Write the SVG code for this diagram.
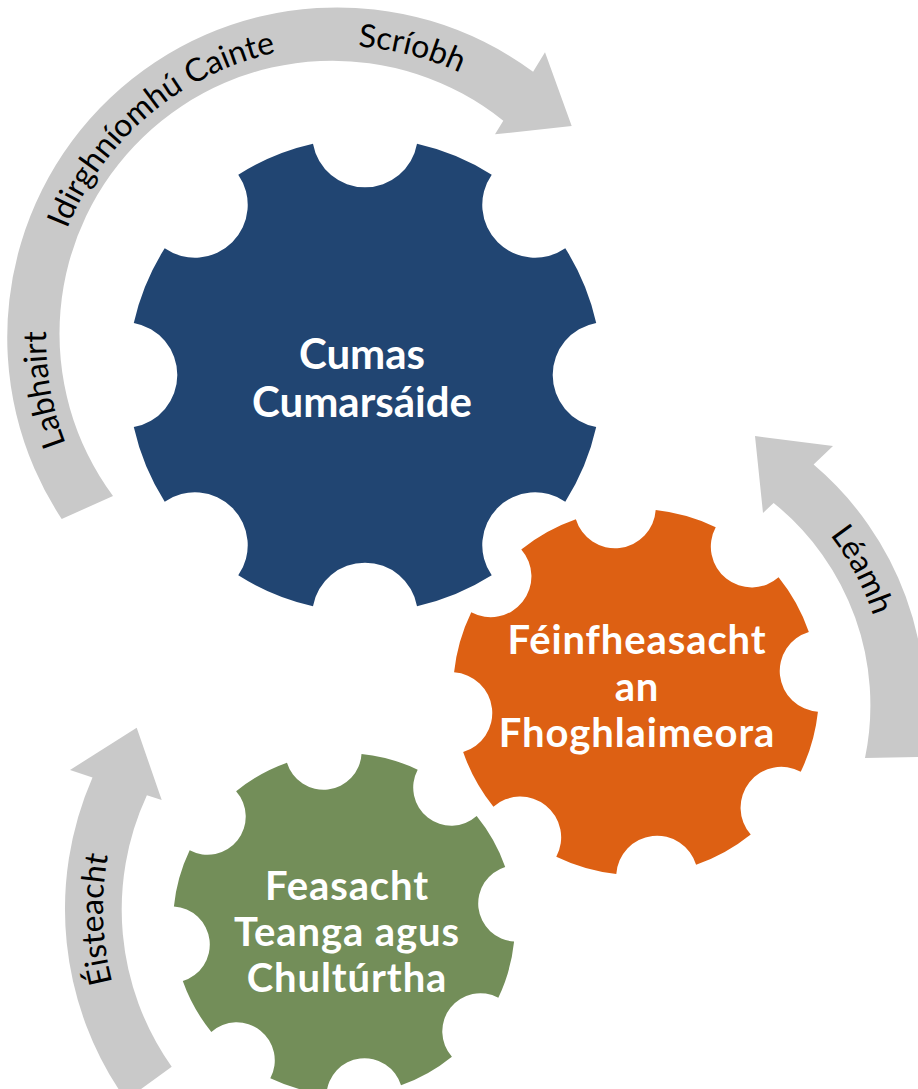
<svg xmlns="http://www.w3.org/2000/svg" xmlns:xlink="http://www.w3.org/1999/xlink" width="918" height="1089" viewBox="0 0 918 1089">
<style>
.arrow{fill:#C9C9C9;}
.alabel{font-family:Lato,"Liberation Sans",sans-serif;font-size:32px;fill:#000;}
.glabel{font-family:Lato,"Liberation Sans",sans-serif;font-size:42px;font-weight:bold;fill:#fff;text-anchor:middle;}
.glabel.sm{font-size:40px;letter-spacing:0.9px;}
</style>
<defs>
<path id="gear" d="M 97.56 -21.95 A 22.3 22.3 0 0 0 97.56 21.95 A 100 100 0 0 1 84.51 53.47 A 22.3 22.3 0 0 0 53.47 84.51 A 100 100 0 0 1 21.95 97.56 A 22.3 22.3 0 0 0 -21.95 97.56 A 100 100 0 0 1 -53.47 84.51 A 22.3 22.3 0 0 0 -84.51 53.47 A 100 100 0 0 1 -97.56 21.95 A 22.3 22.3 0 0 0 -97.56 -21.95 A 100 100 0 0 1 -84.51 -53.47 A 22.3 22.3 0 0 0 -53.47 -84.51 A 100 100 0 0 1 -21.95 -97.56 A 22.3 22.3 0 0 0 21.95 -97.56 A 100 100 0 0 1 53.47 -84.51 A 22.3 22.3 0 0 0 84.51 -53.47 A 100 100 0 0 1 97.56 -21.95 Z"/>
<path id="tpBig" d="M 150.31 561.68 A 292 292 0 1 1 590.88 192"/>
<path id="tpLeamh" d="M 610 427 A 278 278 0 0 1 850.75 844"/>
<path id="tpEist" d="M 248.5 1161 A 291 291 0 0 1 248.5 657"/>
</defs>
<g id="connectors">
<path class="arrow" d="M 61.7 519 A 330 330 0 0 1 533.1 71.8 L 545 52.3 L 571.7 126 L 495 134.3 L 503.3 120.7 A 273 273 0 0 0 113 496 Z"/>
<path class="arrow" d="M 865 758 A 260 260 0 0 0 773.6 502.9 L 763 513 L 755 436 L 833 446 L 813.6 464.6 A 315 315 0 0 1 920.7 757 Z"/>
<path class="arrow" d="M 126 1100 A 329 329 0 0 1 92.5 777.4 L 70 770 L 136.7 727.7 L 161.7 800 L 146.9 795.2 A 272 272 0 0 0 171.7 1066.7 Z"/>
<text class="alabel" text-anchor="middle"><textPath href="#tpBig" xlink:href="#tpBig" startOffset="203.9">Labhairt</textPath></text>
<text class="alabel" text-anchor="middle"><textPath href="#tpBig" xlink:href="#tpBig" startOffset="508.5">Idirghníomhú Cainte</textPath></text>
<text class="alabel" text-anchor="middle"><textPath href="#tpBig" xlink:href="#tpBig" startOffset="786">Scríobh</textPath></text>
<text class="alabel" text-anchor="middle"><textPath href="#tpLeamh" xlink:href="#tpLeamh" startOffset="299.9">Léamh</textPath></text>
<text class="alabel" text-anchor="middle"><textPath href="#tpEist" xlink:href="#tpEist" startOffset="294.6">Éisteacht</textPath></text>
</g>
<g id="gear-cumas">
<use href="#gear" xlink:href="#gear" fill="#214572" transform="translate(365 375) scale(2.37)"/>
<text class="glabel"><tspan x="362" y="369">Cumas</tspan><tspan x="362" y="417">Cumarsáide</tspan></text>
</g>
<g id="gear-feinfheasacht">
<use href="#gear" xlink:href="#gear" fill="#DD6013" transform="translate(636 692) rotate(-6.5) scale(1.83)"/>
<text class="glabel sm"><tspan x="637" y="654">Féinfheasacht</tspan><tspan x="637" y="700.5">an</tspan><tspan x="637" y="747">Fhoghlaimeora</tspan></text>
</g>
<g id="gear-feasacht">
<use href="#gear" xlink:href="#gear" fill="#738E59" transform="translate(344 924) rotate(-6.8) scale(1.71)"/>
<text class="glabel sm"><tspan x="347" y="899.5">Feasacht</tspan><tspan x="347" y="945.5">Teanga agus</tspan><tspan x="347" y="991.5">Chultúrtha</tspan></text>
</g>
</svg>
